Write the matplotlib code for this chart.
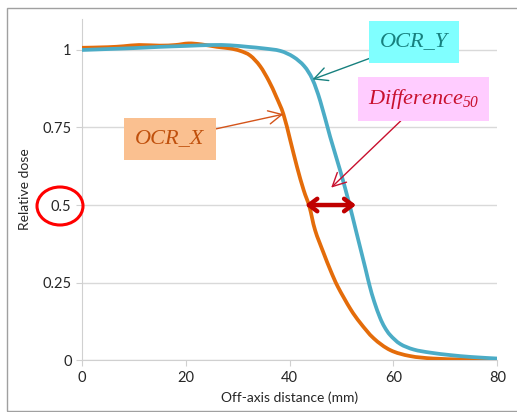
import matplotlib.pyplot as plt
from matplotlib.patches import Ellipse, Rectangle, PathPatch
from matplotlib.path import Path

plt.rcParams["font.family"] = ["Lato", "DejaVu Sans"]
plt.rcParams["mathtext.fontset"] = "custom"
plt.rcParams["mathtext.it"] = "Liberation Serif:italic"
plt.rcParams["mathtext.rm"] = "Liberation Serif:italic"

# off-axis distance (mm) and relative dose
x_ocr_x = [0, 5, 8, 11, 15, 18, 20.5, 23, 26, 28.5, 30.5, 32.4, 34.3, 36.0, 37.4, 38.8,
           40.1, 41.4, 42.7, 43.8, 44.9, 46.5, 47.9, 49.3, 51.7, 53.6, 56.2, 59.4, 63.2,
           67.7, 73.4, 80]
y_ocr_x = [1.007, 1.009, 1.012, 1.016, 1.014, 1.016, 1.021, 1.018, 1.01, 1.005, 0.997,
           0.982, 0.948, 0.9, 0.85, 0.793, 0.71, 0.624, 0.548, 0.495, 0.419, 0.347,
           0.288, 0.236, 0.165, 0.12, 0.07, 0.032, 0.013, 0.005, 0.002, 0.0]

x_ocr_y = [0, 5, 10, 15, 20, 25, 28.5, 32, 35, 38.2, 40.7, 42.8, 44.4, 45.9, 47.8, 49.7,
           51.3, 52.9, 54.6, 55.4, 56.3, 57.4, 58.3, 59.4, 61.3, 63.9, 67.1, 71.0, 75, 80]
y_ocr_y = [1.0, 1.003, 1.006, 1.01, 1.013, 1.016, 1.015, 1.01, 1.005, 0.997, 0.978,
           0.948, 0.905, 0.835, 0.72, 0.613, 0.516, 0.409, 0.295, 0.24, 0.188, 0.137,
           0.106, 0.08, 0.052, 0.034, 0.024, 0.016, 0.01, 0.005]

xticks = [0, 20, 40, 60, 80]
yticks = [0, 0.25, 0.5, 0.75, 1]
ytick_labels = ["0", "0.25", "0.5", "0.75", "1"]


def smooth_line(ax, xs, ys, color):
    # Excel-style "smoothed line": cubic Bezier segments through the points
    n = len(xs)
    verts = [(xs[0], ys[0])]
    codes = [Path.MOVETO]
    for i in range(n - 1):
        i0 = max(i - 1, 0)
        i3 = min(i + 2, n - 1)
        c1 = (xs[i] + (xs[i + 1] - xs[i0]) / 6, ys[i] + (ys[i + 1] - ys[i0]) / 6)
        c2 = (xs[i + 1] - (xs[i3] - xs[i]) / 6, ys[i + 1] - (ys[i3] - ys[i]) / 6)
        verts += [c1, c2, (xs[i + 1], ys[i + 1])]
        codes += [Path.CURVE4] * 3
    ax.add_patch(PathPatch(Path(verts, codes), fill=False, edgecolor=color,
                           linewidth=2.7, capstyle="round", joinstyle="round", zorder=3))


fig = plt.figure(figsize=(5.17, 4.12), dpi=100)
ax = fig.add_axes([0.1586, 0.126, 0.8033, 0.828])

# outer chart frame
fig.patches.append(Rectangle((0.014, 0.003), 1.2, 0.978, transform=fig.transFigure,
                             fill=False, edgecolor="#a0a0a0", linewidth=1.0))

smooth_line(ax, x_ocr_x, y_ocr_x, "#E46C0A")
smooth_line(ax, x_ocr_y, y_ocr_y, "#4BACC6")

ax.set_xlim(0, 80)
ax.set_ylim(0, 1.1)
ax.set_xticks(xticks)
ax.set_yticks(yticks)
ax.set_yticklabels(ytick_labels)
ax.grid(axis="y", color="#d9d9d9", linewidth=1.0)
ax.set_axisbelow(True)
for s in ["top", "right"]:
    ax.spines[s].set_visible(False)
for s in ["left", "bottom"]:
    ax.spines[s].set_color("#d0d0d0")
ax.tick_params(colors="#d0d0d0", labelcolor="#262626", labelsize=10.5, length=4)
ax.set_xlabel("Off-axis distance (mm)", fontsize=10, color="#262626", labelpad=5)
ax.set_ylabel("Relative dose", fontsize=10, color="#262626", labelpad=8)

serif = "Liberation Serif"
head = "->,head_length=0.6,head_width=0.3"

# OCR_Y label
ax.annotate("OCR_Y", xy=(44.4, 0.905), xytext=(64.0, 1.026), ha="center", va="center",
            fontsize=16, style="italic", family=serif, color="#17807e",
            bbox=dict(boxstyle="square,pad=0.5", fc="#80ffff", ec="none"),
            arrowprops=dict(arrowstyle=head, color="#17807e", lw=1.0, shrinkA=0, shrinkB=0))

# OCR_X label
ax.annotate("OCR_X", xy=(38.8, 0.793), xytext=(16.9, 0.713), ha="center", va="center",
            fontsize=16, style="italic", family=serif, color="#c0500c",
            bbox=dict(boxstyle="square,pad=0.5", fc="#fac090", ec="none"),
            arrowprops=dict(arrowstyle=head, color="#d4541a", lw=1.0, shrinkA=0, shrinkB=0))

# Difference_50 label
ax.annotate(r"$Difference_{50}$", xy=(48.0, 0.556), xytext=(65.8, 0.842), ha="center",
            va="center", fontsize=16, color="#c8102e",
            bbox=dict(boxstyle="square,pad=0.45", fc="#ffccff", ec="none"),
            arrowprops=dict(arrowstyle=head, color="#c8102e", lw=1.0, shrinkA=0, shrinkB=0))

# double arrow at half dose
ax.annotate("", xy=(43.0, 0.5), xytext=(52.8, 0.5),
            arrowprops=dict(arrowstyle="<->,head_length=0.6,head_width=0.45",
                            color="#c00000", lw=3.2, shrinkA=0, shrinkB=0), zorder=5)

# red circle around the 0.5 label
fig.patches.append(Ellipse((60 / 517, 1 - 206 / 412), 46 / 517, 38 / 412,
                           transform=fig.transFigure, fill=False,
                           edgecolor="#ff0000", linewidth=2.2))

fig.savefig("out.png", dpi=100)
